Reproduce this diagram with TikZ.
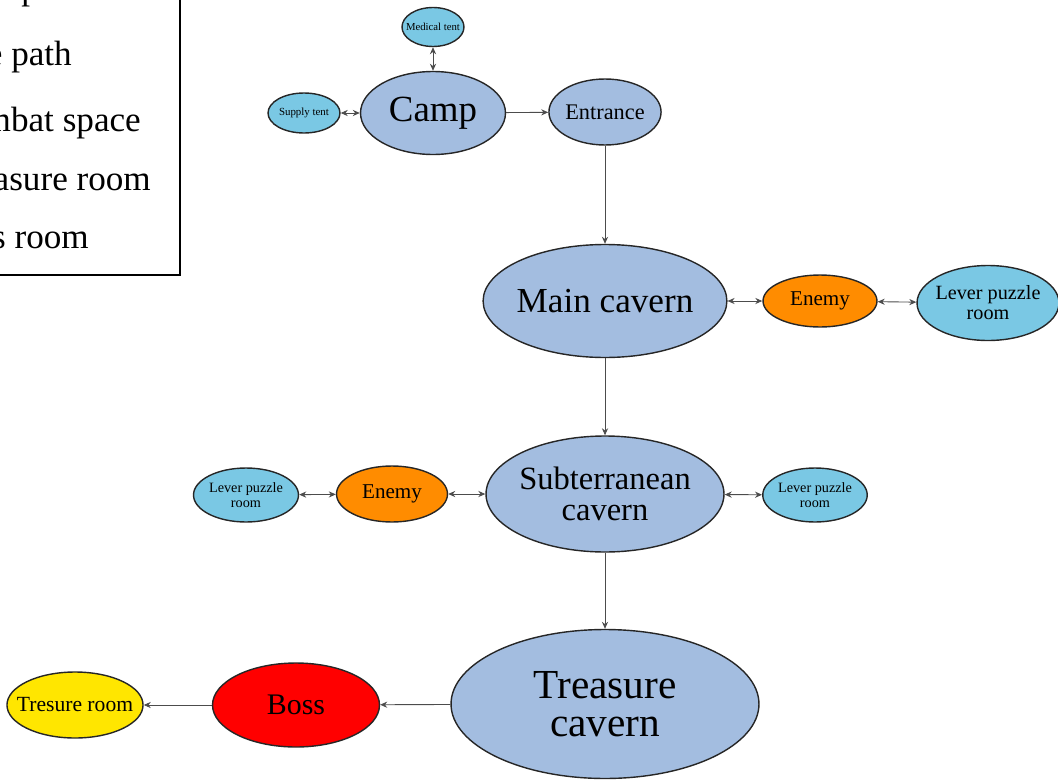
\documentclass[tikz,border=0pt]{standalone}
\usepackage{fontspec}
\setmainfont{Liberation Serif}
\usetikzlibrary{shapes.geometric,arrows.meta}
\definecolor{cavernblue}{RGB}{163,189,224}
\definecolor{sideblue}{RGB}{122,200,228}
\definecolor{fightorange}{RGB}{255,140,0}
\definecolor{bossred}{RGB}{255,0,0}
\definecolor{lootyellow}{RGB}{255,230,0}
\newcommand\fsz[2]{\fontsize{#1}{#2}\selectfont}

\begin{document}
\begin{tikzpicture}[x=0.02cm,y=-0.02cm,
  room/.style={draw=black!85, ellipse, line width=0.8pt, inner sep=0pt, align=center},
  link/.style={draw=black!70, line width=0.5pt},
  oneway/.style={link, -{Stealth[length=4pt,width=3.5pt]}},
  twoway/.style={link, {Stealth[length=4pt,width=3.5pt]}-{Stealth[length=4pt,width=3.5pt]}}]
\clip (0,0) rectangle (1058,781);
% legend (cut off at the left edge)
\draw[line width=1.4pt] (-40,-40) rectangle (180,275);
\node[anchor=base east, font=\fsz{20}{24}] (keymain) at (88,0) {Main path};
\node[anchor=base east, font=\fsz{20}{24}] (keyside) at (78,65) {Side path};
\node[anchor=base east, font=\fsz{20}{24}] (keyfight) at (147,131) {Combat space};
\node[anchor=base east, font=\fsz{20}{24}] (keyloot) at (157,190) {Treasure room};
\node[anchor=base east, font=\fsz{20}{24}] (keyboss) at (95,248) {Boss room};
% rooms
\node[room, fill=sideblue, inner xsep=-2.9pt, minimum width=1.24cm, minimum height=0.78cm, font=\fsz{6.1}{7}] (medical) at (433,27) {Medical tent};
\node[room, fill=sideblue, minimum width=1.44cm, minimum height=0.8cm, font=\fsz{6.2}{7}] (supply) at (304,113) {Supply tent};
\node[room, fill=cavernblue, minimum width=2.9cm, minimum height=1.66cm, font=\fsz{21}{22}] (camp) at (433,113) {Camp};
\node[room, fill=cavernblue, minimum width=2.24cm, minimum height=1.32cm, font=\fsz{12.7}{14}] (entrance) at (605,112) {Entrance};
\node[room, fill=cavernblue, inner xsep=-1.2pt, minimum width=4.86cm, minimum height=2.26cm, font=\fsz{20}{22}] (main) at (605,301) {Main cavern};
\node[room, fill=fightorange, minimum width=2.28cm, minimum height=1.04cm, font=\fsz{12}{13}] (enemyE) at (820,301) {Enemy};
\node[room, fill=sideblue, inner xsep=-1.3pt, minimum width=2.84cm, minimum height=1.5cm, font=\fsz{11.5}{11.3}] (leverE) at (988,303) {Lever puzzle\\room};
\node[room, fill=cavernblue, inner xsep=-2.2pt, minimum width=4.76cm, minimum height=2.32cm, font=\fsz{18.5}{17.5}] (sub) at (605,494) {Subterranean\\cavern};
\node[room, fill=fightorange, minimum width=2.22cm, minimum height=1.12cm, font=\fsz{12}{13}] (enemyW) at (392,494) {Enemy};
\node[room, fill=sideblue, minimum width=2.1cm, minimum height=1.08cm, font=\fsz{8.1}{8.5}] (leverW) at (246,495) {Lever puzzle\\room};
\node[room, fill=sideblue, minimum width=2.08cm, minimum height=1.08cm, font=\fsz{8.1}{8.5}] (leverS) at (815,495) {Lever puzzle\\room};
\node[room, fill=cavernblue, minimum width=6.16cm, minimum height=2.98cm, font=\fsz{23.5}{21.5}] (treasure) at (605,704) {Treasure\\cavern};
\node[room, fill=bossred, minimum width=3.34cm, minimum height=1.68cm, font=\fsz{17}{18}] (boss) at (296,705) {Boss};
\node[room, fill=lootyellow, inner xsep=-5.7pt, minimum width=2.68cm, minimum height=1.32cm, font=\fsz{12.3}{13}] (loot) at (75,705) {Tresure room};
% passages
\draw[twoway] (medical) -- (camp);
\draw[twoway] (supply) -- (camp);
\draw[oneway] (camp) -- (entrance);
\draw[oneway] (entrance) -- (main);
\draw[twoway] (main) -- (enemyE);
\draw[twoway] (enemyE) -- (leverE);
\draw[oneway] (main) -- (sub);
\draw[twoway] (sub) -- (enemyW);
\draw[twoway] (enemyW) -- (leverW);
\draw[twoway] (sub) -- (leverS);
\draw[oneway] (sub) -- (treasure);
\draw[oneway] (treasure) -- (boss);
\draw[oneway] (boss) -- (loot);
\end{tikzpicture}
\end{document}
